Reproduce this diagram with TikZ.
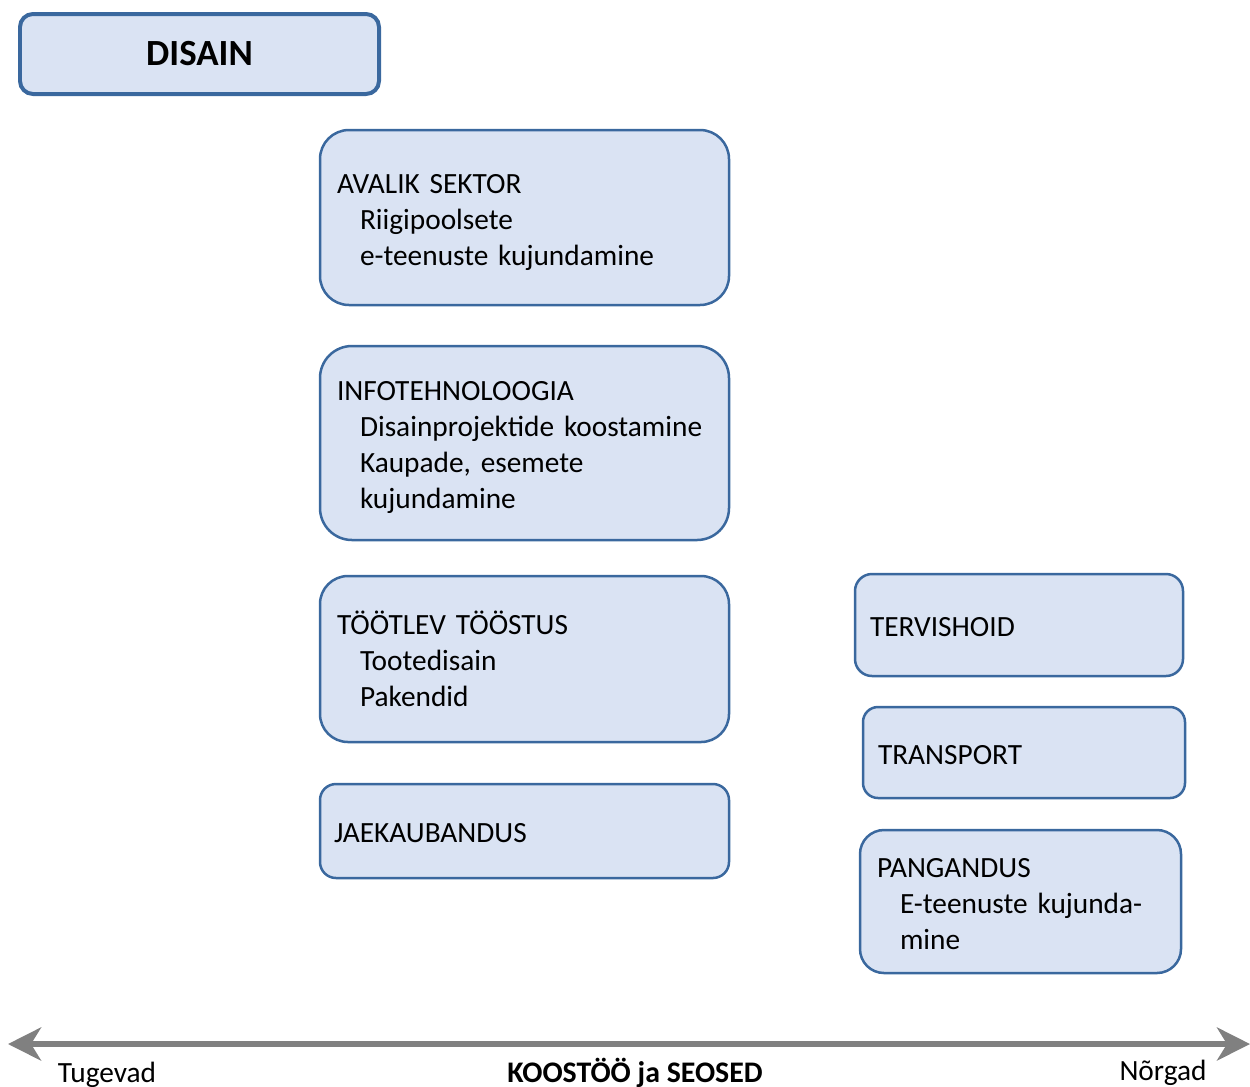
\documentclass[tikz,border=0pt]{standalone}
\usepackage{fontspec}
\setmainfont{Carlito}
\usetikzlibrary{arrows.meta}

\definecolor{boxfill}{RGB}{218,227,243}
\definecolor{boxline}{RGB}{58,104,158}
\definecolor{axisgray}{RGB}{128,128,128}

\newcommand{\pxu}{0.02cm}
\newcommand{\lstrut}{\rule[-3.4pt]{0pt}{20.4pt}}
\newcommand{\ind}{\lstrut\hspace*{0.46cm}}

\tikzset{
  sector/.style={draw=boxline, fill=boxfill, line width=0.05cm,
    inner xsep=17*\pxu, inner ysep=0pt, align=left,
    font=\fontsize{16.7}{20.5}\selectfont, execute at begin node=\lstrut},
  axislabel/.style={anchor=base, font=\fontsize{16.7}{20.5}\selectfont}
}

\begin{document}
\begin{tikzpicture}[x=0.02cm, y=-0.02cm]
        \useasboundingbox (0,0) rectangle (1250,1086);

        % Title
        \node (disain) [draw=boxline, fill=boxfill, line width=0.08cm,
          rounded corners=13*\pxu, minimum width=359*\pxu, minimum height=80*\pxu,
          font=\fontsize{21}{25}\selectfont\bfseries] at (199.5,54) {DISAIN};

        % Strong links (left column)
        \node (avalik) [sector, rounded corners=29*\pxu, text width=375*\pxu,
          minimum height=175*\pxu] at (524.5,217.5)
          {AVALIK SEKTOR\\ \ind Riigipoolsete\\ \ind e-teenuste kujundamine};
        \node (infotehno) [sector, rounded corners=32*\pxu, text width=375*\pxu,
          minimum height=194*\pxu] at (524.5,443)
          {INFOTEHNOLOOGIA\\ \ind Disainprojektide koostamine\\ \ind Kaupade, esemete\\ \ind kujundamine};
        \node (tootlev) [sector, rounded corners=28*\pxu, text width=375*\pxu,
          minimum height=166*\pxu] at (524.5,659)
          {TÖÖTLEV TÖÖSTUS\\ \ind Tootedisain\\ \ind Pakendid};
        \node (jaekaub) [sector, rounded corners=16*\pxu, text width=381*\pxu,
          inner xsep=14*\pxu, minimum height=94*\pxu] at (524.5,831)
          {JAEKAUBANDUS};

        % Weak links (right column)
        \node (tervis) [sector, rounded corners=17*\pxu, text width=298*\pxu,
          inner xsep=15*\pxu, minimum height=102*\pxu] at (1019,625)
          {TERVISHOID};
        \node (transport) [sector, rounded corners=15*\pxu, text width=292*\pxu,
          inner xsep=15*\pxu, minimum height=91*\pxu] at (1024,752.5)
          {TRANSPORT};
        \node (pangandus) [sector, rounded corners=24*\pxu, text width=287*\pxu,
          minimum height=143*\pxu] at (1020.5,901.5)
          {PANGANDUS\\ \ind E-teenuste kujunda-\\ \ind mine};

        % Axis of cooperation
        \coordinate (strong) at (8,1044);
        \coordinate (weak) at (1250,1044);
        \draw[axisgray, line width=0.12cm,
          {Stealth[length=0.66cm, width=0.66cm, inset=0.2cm]}-{Stealth[length=0.66cm, width=0.66cm, inset=0.2cm]}]
          (strong) -- (weak);

        \node (tugevad) [axislabel] at (107,1082) {Tugevad};
        \node (koostoo) [axislabel, font=\fontsize{17}{20.5}\selectfont\bfseries] at (635,1082) {KOOSTÖÖ ja SEOSED};
        \node (norgad) [axislabel] at (1163,1080) {Nõrgad};
      \end{tikzpicture}
\end{document}
